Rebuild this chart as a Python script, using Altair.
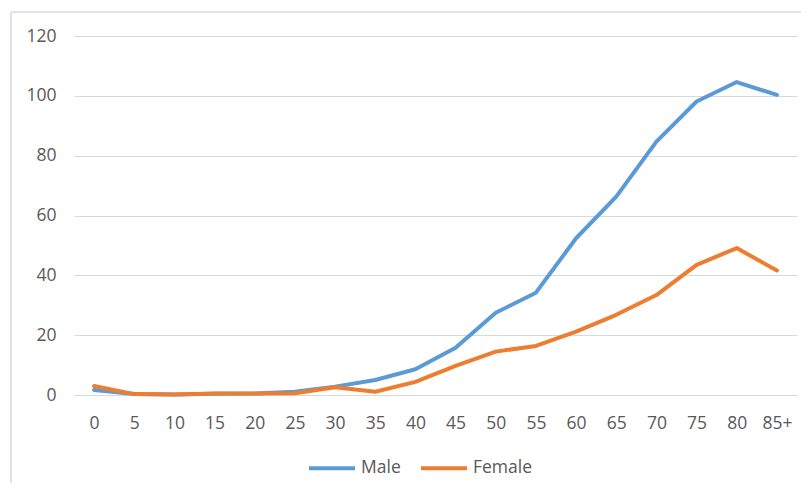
import altair as alt
import pandas as pd

ages = ["0", "5", "10", "15", "20", "25", "30", "35", "40", "45", "50", "55",
        "60", "65", "70", "75", "80", "85+"]
male = [1.7, 0.3, 0.2, 0.4, 0.5, 1.1, 2.8, 5.0, 8.6, 15.8, 27.5, 34.2,
        52.4, 66.3, 84.7, 98.1, 104.6, 100.3]
female = [3.0, 0.3, 0.2, 0.5, 0.5, 0.6, 2.6, 1.1, 4.4, 9.7, 14.5, 16.4,
          21.2, 26.8, 33.4, 43.5, 49.1, 41.6]
series = ["Male", "Female"]
colors = ["#5B9BD5", "#ED7D31"]

rows = []
for i, a in enumerate(ages):
    rows.append({"age": a, "series": "Male", "value": male[i], "order": i})
    rows.append({"age": a, "series": "Female", "value": female[i], "order": i})
df = pd.DataFrame(rows)

FONT = "Open Sans"
TEXT = "#595959"
GRID = "#D9D9D9"

lines = alt.Chart(df).mark_line(strokeWidth=4, strokeJoin="round", strokeCap="round").encode(
    x=alt.X("age:N", sort=ages, scale=alt.Scale(type="point", padding=0.5),
            axis=alt.Axis(title=None, labelAngle=0, ticks=False, domain=True,
                          domainColor=GRID, labelPadding=19, labelFontSize=17.5,
                          labelColor=TEXT, labelFont=FONT, grid=False)),
    y=alt.Y("value:Q", scale=alt.Scale(domain=[0, 120], nice=False),
            axis=alt.Axis(title=None, values=[0, 20, 40, 60, 80, 100, 120],
                          ticks=False, domain=False, labelPadding=18,
                          labelFontSize=17.5, labelColor=TEXT, labelFont=FONT,
                          gridColor=GRID, gridWidth=1)),
    color=alt.Color("series:N", sort=series,
                    scale=alt.Scale(domain=series, range=colors),
                    legend=alt.Legend(title=None, orient="none", direction="horizontal",
                                      legendX=233, legendY=407, padding=0,
                                      symbolType="stroke", symbolSize=2116,
                                      symbolStrokeWidth=4, labelFontSize=17.5,
                                      labelColor=TEXT, labelFont=FONT,
                                      labelOffset=4, columnPadding=12)),
    order="order:Q",
)

border_left = alt.Chart(pd.DataFrame({"k": [0]})).mark_rule(color=GRID, strokeWidth=1.5).encode(
    x=alt.value(-63), y=alt.value(-24), y2=alt.value(460))
border_top = alt.Chart(pd.DataFrame({"k": [0]})).mark_rule(color=GRID, strokeWidth=1.5).encode(
    x=alt.value(-63), x2=alt.value(740), y=alt.value(-24))

chart = alt.layer(border_left, border_top, lines).properties(
    width=723, height=359,
    autosize=alt.AutoSizeParams(type="none"),
    padding={"left": 66, "top": 28, "right": 4, "bottom": 88},
    background="white",
).configure_view(stroke=None)

chart.save("out.html", embed_options={"renderer": "svg", "actions": False})
